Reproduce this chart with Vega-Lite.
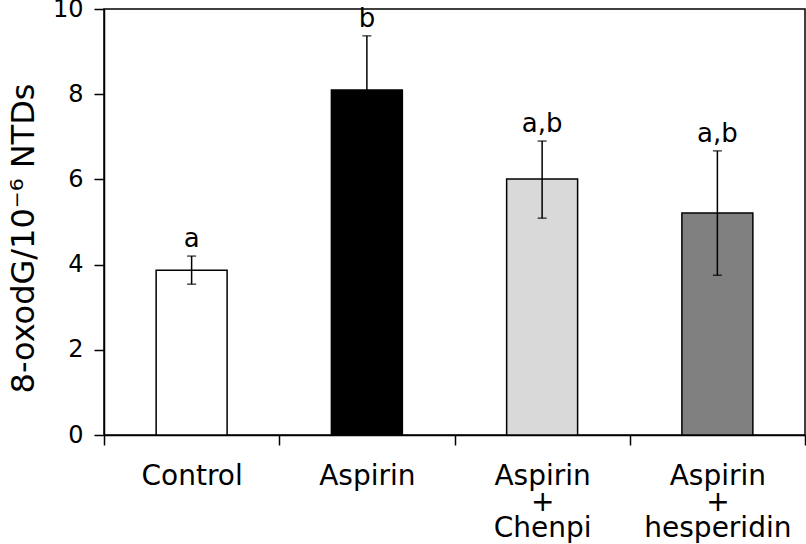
{
  "$schema": "https://vega.github.io/schema/vega-lite/v6.json",
  "width": 701,
  "height": 426,
  "autosize": "none",
  "padding": {"left": 104, "top": 9, "right": 1, "bottom": 109},
  "background": "white",
  "config": {
    "view": {"stroke": "black", "strokeWidth": 1.5},
    "font": "DejaVu Sans",
    "axis": {"domainColor": "black", "tickColor": "black", "domainWidth": 1.5, "tickWidth": 1.5, "labelColor": "black", "titleColor": "black", "grid": false, "labelFont": "DejaVu Sans", "titleFont": "DejaVu Sans"}
  },
  "data": {
    "values": [
      {"group": "Control", "mean": 3.87, "lo": 3.54, "hi": 4.2, "letter": "a"},
      {"group": "Aspirin", "mean": 8.1, "lo": 6.83, "hi": 9.37, "letter": "b"},
      {"group": "Aspirin + Chenpi", "mean": 6.01, "lo": 5.09, "hi": 6.9, "letter": "a,b"},
      {"group": "Aspirin + hesperidin", "mean": 5.21, "lo": 3.75, "hi": 6.67, "letter": "a,b"}
    ]
  },
  "encoding": {
    "x": {
      "field": "group", "type": "nominal", "sort": null,
      "scale": {"paddingInner": 0, "paddingOuter": 0},
      "axis": {
        "title": null, "labelAngle": 0, "tickBand": "extent", "tickSize": 10,
        "labelFontSize": 28, "labelPadding": 17, "labelLineHeight": 26, "labelBaseline": "top",
        "labelExpr": "split(replace(datum.label, ' + ', '|+|'), '|')"
      }
    }
  },
  "layer": [
    {
      "mark": {"type": "bar", "width": {"band": 0.405}, "stroke": "black", "strokeWidth": 1.5},
      "encoding": {
        "y": {
          "field": "mean", "type": "quantitative",
          "scale": {"domain": [0, 10], "nice": false},
          "axis": {"title": "8-oxodG/10⁻⁶ NTDs", "values": [0, 2, 4, 6, 8, 10], "tickSize": 10, "labelFontSize": 24, "labelPadding": 11, "titleFontSize": 32, "titleFontWeight": "normal", "titlePadding": 12, "titleY": 229}
        },
        "fill": {
          "field": "group", "type": "nominal", "sort": null, "legend": null,
          "scale": {"domain": ["Control", "Aspirin", "Aspirin + Chenpi", "Aspirin + hesperidin"], "range": ["#ffffff", "#000000", "#d9d9d9", "#808080"]}
        }
      }
    },
    {
      "mark": {"type": "rule", "color": "black", "strokeWidth": 1.5},
      "encoding": {"y": {"field": "lo", "type": "quantitative"}, "y2": {"field": "hi"}}
    },
    {
      "mark": {"type": "tick", "color": "black", "size": 9, "thickness": 1.5},
      "encoding": {"y": {"field": "lo", "type": "quantitative"}}
    },
    {
      "mark": {"type": "tick", "color": "black", "size": 9, "thickness": 1.5},
      "encoding": {"y": {"field": "hi", "type": "quantitative"}}
    },
    {
      "mark": {"type": "text", "baseline": "alphabetic", "dy": -9, "fontSize": 26, "color": "black"},
      "encoding": {"y": {"field": "hi", "type": "quantitative"}, "text": {"field": "letter"}}
    }
  ]
}
